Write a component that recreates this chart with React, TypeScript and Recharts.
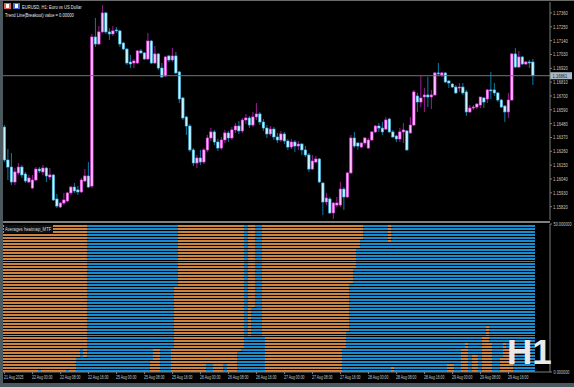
import React from 'react';
import { ComposedChart, Bar, XAxis, YAxis, ReferenceLine } from 'recharts';

// EURUSD H1 bars, 21 Aug 16:00 .. 29 Aug 23:00
const opens = [
  1.16453, 1.16191, 1.16135, 1.16016, 1.16088, 1.16135, 1.1608, 1.16016,
  1.15968, 1.16032, 1.16119, 1.16096, 1.16127, 1.16056, 1.16072, 1.15881,
  1.15817, 1.15849, 1.15865, 1.15929, 1.15976, 1.15953, 1.15937, 1.16024,
  1.16064, 1.15984, 1.17169, 1.17113, 1.17209, 1.1736, 1.17209, 1.17193,
  1.17225, 1.17217, 1.17121, 1.17073, 1.1697, 1.16962, 1.16962, 1.17058,
  1.17042, 1.16994, 1.17137, 1.16962, 1.17034, 1.16922, 1.16859, 1.17018,
  1.16986, 1.17018, 1.16891, 1.16684, 1.16533, 1.16461, 1.16271, 1.16167,
  1.16207, 1.16175, 1.16271, 1.16366, 1.16414, 1.16334, 1.16286, 1.1635,
  1.16406, 1.16366, 1.1643, 1.16461, 1.16422, 1.16509, 1.16525, 1.16469,
  1.16533, 1.16557, 1.16493, 1.16445, 1.16398, 1.16437, 1.16374, 1.1635,
  1.16398, 1.16342, 1.16294, 1.16334, 1.16302, 1.16318, 1.16271, 1.16231,
  1.16119, 1.16175, 1.16199, 1.16008, 1.15857, 1.15881, 1.1577, 1.15833,
  1.15833, 1.1596, 1.15897, 1.16088, 1.16366, 1.16326, 1.16294, 1.16326,
  1.16286, 1.1635, 1.16414, 1.16461, 1.16445, 1.16437, 1.16517, 1.16414,
  1.16382, 1.16358, 1.16414, 1.16422, 1.16406, 1.16469, 1.167, 1.16652,
  1.16692, 1.16708, 1.16692, 1.16708, 1.16883, 1.16867, 1.16883, 1.16819,
  1.16795, 1.16771, 1.16763, 1.16771, 1.16732, 1.16573, 1.16604, 1.16612,
  1.16628, 1.16684, 1.16676, 1.16748, 1.16748, 1.16724, 1.16668, 1.1662,
  1.16573, 1.16668, 1.17034, 1.1693, 1.1701, 1.16954, 1.1697, 1.1697,
];
const highs = [
  1.16469, 1.16278, 1.16247, 1.16127, 1.16167, 1.16151, 1.16096, 1.16072,
  1.16072, 1.16135, 1.16135, 1.16151, 1.16135, 1.16127, 1.1608, 1.15921,
  1.15857, 1.15929, 1.15937, 1.15984, 1.16008, 1.15984, 1.16048, 1.16119,
  1.16175, 1.17193, 1.1732, 1.17256, 1.17423, 1.17368, 1.1724, 1.17256,
  1.17248, 1.17225, 1.17129, 1.17081, 1.17026, 1.16994, 1.17066, 1.17073,
  1.1705, 1.17201, 1.17145, 1.17097, 1.17042, 1.16962, 1.17018, 1.17026,
  1.17081, 1.1705, 1.16899, 1.16692, 1.16541, 1.16477, 1.16286, 1.16231,
  1.16271, 1.16286, 1.1639, 1.16445, 1.1643, 1.16358, 1.16374, 1.1643,
  1.16422, 1.16453, 1.16485, 1.16501, 1.16525, 1.16557, 1.16541, 1.16573,
  1.16644, 1.16573, 1.16517, 1.16469, 1.16461, 1.16453, 1.16406, 1.16422,
  1.16414, 1.16358, 1.16358, 1.1635, 1.16342, 1.16326, 1.16302, 1.16247,
  1.16231, 1.16223, 1.16207, 1.16016, 1.15929, 1.15897, 1.15857, 1.15897,
  1.16016, 1.15976, 1.16096, 1.1639, 1.16414, 1.16334, 1.16334, 1.16374,
  1.16366, 1.16422, 1.16469, 1.16485, 1.16493, 1.16533, 1.16525, 1.1643,
  1.1639, 1.16445, 1.16485, 1.1643, 1.16533, 1.16748, 1.16724, 1.16859,
  1.16763, 1.16851, 1.16748, 1.16891, 1.16962, 1.16891, 1.16891, 1.16827,
  1.16803, 1.16787, 1.16803, 1.16803, 1.16748, 1.16628, 1.16628, 1.16644,
  1.16692, 1.16692, 1.16755, 1.16891, 1.16803, 1.16732, 1.16676, 1.16628,
  1.16724, 1.17042, 1.17081, 1.17058, 1.17018, 1.16978, 1.16986, 1.16994,
];
const lows = [
  1.16175, 1.16032, 1.15992, 1.15992, 1.16072, 1.16048, 1.16008, 1.16008,
  1.1596, 1.16024, 1.16088, 1.16072, 1.16016, 1.16032, 1.15865, 1.15809,
  1.15809, 1.15833, 1.15857, 1.15913, 1.15929, 1.15913, 1.15929, 1.16016,
  1.15968, 1.15968, 1.17089, 1.17105, 1.17201, 1.17193, 1.17145, 1.17177,
  1.17201, 1.17089, 1.17066, 1.16946, 1.16922, 1.16922, 1.16954, 1.17034,
  1.16986, 1.16986, 1.16954, 1.16954, 1.16907, 1.16843, 1.16851, 1.1697,
  1.1697, 1.16875, 1.16644, 1.16509, 1.1639, 1.16255, 1.16143, 1.16127,
  1.16151, 1.16159, 1.16255, 1.16342, 1.1631, 1.16263, 1.16271, 1.16326,
  1.16334, 1.1635, 1.16406, 1.16398, 1.16406, 1.16477, 1.16445, 1.16453,
  1.16509, 1.16469, 1.16422, 1.16366, 1.16382, 1.1635, 1.16326, 1.16334,
  1.16318, 1.16271, 1.16278, 1.16255, 1.16271, 1.16231, 1.16215, 1.16096,
  1.16112, 1.16167, 1.16008, 1.15754, 1.15833, 1.15762, 1.15722, 1.15817,
  1.15817, 1.15794, 1.15889, 1.1608, 1.16286, 1.16271, 1.16286, 1.1631,
  1.16278, 1.16342, 1.16406, 1.16414, 1.1639, 1.1643, 1.16406, 1.16366,
  1.16334, 1.16334, 1.16326, 1.16263, 1.16398, 1.16461, 1.16573, 1.16612,
  1.16573, 1.16612, 1.16596, 1.167, 1.16859, 1.16851, 1.16803, 1.16763,
  1.16763, 1.16716, 1.16732, 1.16708, 1.16541, 1.16565, 1.16589, 1.16596,
  1.16604, 1.16604, 1.16644, 1.16676, 1.167, 1.16652, 1.16604, 1.16493,
  1.16525, 1.1666, 1.16922, 1.16922, 1.16946, 1.16946, 1.16922, 1.16787,
];
const closes = [
  1.16191, 1.16135, 1.16016, 1.16096, 1.16135, 1.16072, 1.16024, 1.16048,
  1.16032, 1.16119, 1.16104, 1.16127, 1.16064, 1.16072, 1.15873, 1.15825,
  1.15849, 1.15873, 1.15929, 1.15976, 1.15945, 1.15937, 1.16032, 1.16064,
  1.15976, 1.17169, 1.17113, 1.17209, 1.1736, 1.17209, 1.17193, 1.17217,
  1.17217, 1.17113, 1.17073, 1.16962, 1.16954, 1.16978, 1.17058, 1.17042,
  1.16994, 1.17137, 1.16962, 1.17034, 1.16922, 1.16851, 1.1701, 1.16986,
  1.17018, 1.16883, 1.16676, 1.16525, 1.16461, 1.16271, 1.16167, 1.16207,
  1.16175, 1.16271, 1.16366, 1.16414, 1.16334, 1.16286, 1.1635, 1.16406,
  1.16366, 1.1643, 1.16461, 1.16422, 1.16509, 1.16525, 1.16469, 1.16533,
  1.16557, 1.16493, 1.16445, 1.16398, 1.16437, 1.16374, 1.1635, 1.16398,
  1.16342, 1.16294, 1.16334, 1.16302, 1.16318, 1.16271, 1.16231, 1.16119,
  1.16183, 1.16199, 1.16016, 1.15857, 1.15889, 1.1577, 1.15849, 1.15849,
  1.1596, 1.15897, 1.16088, 1.16366, 1.16302, 1.16302, 1.16326, 1.16366,
  1.1635, 1.16414, 1.16461, 1.16445, 1.16414, 1.16509, 1.16414, 1.16374,
  1.16358, 1.16414, 1.1643, 1.16271, 1.16469, 1.16732, 1.16652, 1.16684,
  1.16708, 1.16692, 1.16708, 1.16883, 1.16875, 1.16883, 1.16811, 1.16803,
  1.16771, 1.16724, 1.16771, 1.16724, 1.16573, 1.16604, 1.16612, 1.16636,
  1.16692, 1.16652, 1.16748, 1.1674, 1.16724, 1.16668, 1.16612, 1.16573,
  1.16668, 1.17034, 1.1693, 1.1701, 1.16954, 1.1697, 1.16962, 1.16861,
];

// heatmap: rows (of 50) shown blue, counted from the top and from the bottom
const heatTop = [
  0, 0, 0, 0, 0, 0, 0, 0, 0, 0, 0, 0, 0, 0, 0, 0,
  0, 0, 0, 0, 0, 0, 0, 0, 50, 50, 50, 50, 50, 50, 50, 50,
  50, 50, 50, 50, 50, 50, 50, 50, 50, 50, 46, 42, 42, 50, 50, 50,
  42, 21, 0, 0, 0, 0, 0, 0, 0, 0, 0, 0, 0, 0, 0, 0,
  0, 0, 0, 0, 0, 50, 0, 0, 50, 50, 0, 0, 0, 0, 0, 0,
  0, 0, 0, 0, 0, 0, 0, 0, 0, 0, 0, 0, 0, 0, 0, 0,
  0, 0, 0, 0, 0, 0, 0, 50, 50, 50, 50, 50, 50, 50, 0, 48,
  50, 50, 50, 50, 50, 50, 50, 50, 50, 50, 50, 50, 50, 50, 50, 47,
  47, 50, 50, 42, 40, 50, 44, 44, 50, 38, 34, 40, 50, 50, 45, 40,
  42, 46, 50, 50, 50, 50, 50, 50,
];
const heatBottom = [
  0, 0, 0, 0, 0, 0, 0, 0, 0, 0, 1, 0, 0, 0, 0, 0,
  0, 0, 1, 0, 0, 5, 8, 5, 0, 0, 0, 0, 0, 0, 0, 0,
  0, 0, 0, 0, 0, 0, 0, 0, 0, 0, 0, 0, 0, 0, 0, 0,
  0, 0, 0, 0, 0, 0, 0, 0, 0, 0, 3, 3, 0, 0, 0, 3,
  0, 0, 0, 7, 8, 0, 12, 22, 0, 0, 12, 0, 0, 0, 0, 0,
  0, 0, 0, 0, 0, 0, 0, 0, 0, 0, 0, 0, 0, 0, 0, 0,
  0, 8, 14, 30, 35, 42, 45, 0, 0, 0, 0, 0, 0, 0, 44, 0,
  0, 0, 0, 0, 0, 0, 0, 0, 0, 0, 0, 0, 0, 0, 0, 0,
  0, 0, 0, 0, 0, 0, 0, 0, 0, 0, 0, 0, 0, 0, 0, 0,
  0, 0, 0, 0, 0, 0, 0, 0,
];

const priceTicks = [
  1.1736, 1.1725, 1.1714, 1.1703, 1.1692, 1.1681, 1.167, 1.1659,
  1.1648, 1.1637, 1.1626, 1.1615, 1.1604, 1.1593, 1.1582,
];
const lastPrice = 1.16861;
const timeTicks = [0, 8, 16, 24, 32, 40, 48, 56, 64, 72, 80, 88, 96, 104, 112, 120, 128, 136, 144];
const timeLabels = [
  '21 Aug 2025', '22 Aug 00:00', '22 Aug 08:00', '22 Aug 16:00', '25 Aug 00:00',
  '25 Aug 08:00', '25 Aug 16:00', '26 Aug 00:00', '26 Aug 08:00', '26 Aug 16:00',
  '27 Aug 00:00', '27 Aug 08:00', '27 Aug 16:00', '28 Aug 00:00', '28 Aug 08:00',
  '28 Aug 16:00', '29 Aug 00:00', '29 Aug 08:00', '29 Aug 16:00',
];
const heatTicks = [0, 50];

const ROWS = 50;
const X_DOMAIN: [number, number] = [-0.45, 155.85];
const FONT = '"Liberation Sans", Arial, sans-serif';
const TXT = '#c8c8c8';
const LINE = '#7d7d7d';
const HEAT_UP = '#1b8ccb';
const HEAT_DN = '#cc8443';

const data = opens.map((o, i) => ({
  i,
  range: [lows[i], highs[i]],
  open: o,
  high: highs[i],
  low: lows[i],
  close: closes[i],
  lo: heatBottom[i],
  mid: ROWS - heatTop[i] - heatBottom[i],
  hi: heatTop[i],
}));

function Candle(props: any) {
  const { x, y, width, height, payload } = props;
  if (x == null || !payload) return null;
  const { open, close, high, low } = payload;
  const top = Math.min(y, y + height);
  const h = Math.abs(height);
  const k = h / (high - low || 1);
  const cx = x + width / 2;
  const yo = top + (high - open) * k;
  const yc = top + (high - close) * k;
  const up = close >= open;
  const bTop = Math.min(yo, yc);
  const bH = Math.max(Math.abs(yc - yo), 1);
  return (
    <g>
      <line x1={cx} x2={cx} y1={top} y2={top + h} stroke={up ? '#9c1f9a' : '#0b7ea3'} strokeWidth={1} />
      <rect
        x={cx - 1.2}
        y={bTop}
        width={2.4}
        height={bH}
        fill={up ? '#ffbcff' : '#c8f4ff'}
        stroke={up ? '#f23cf0' : '#3ab6ea'}
        strokeWidth={0.6}
      />
    </g>
  );
}

function HeatSeg(props: any) {
  const { x, y, width, height, payload, field, color } = props;
  const n = payload ? payload[field] : 0;
  if (!n || n <= 0 || x == null) return null;
  const top = Math.min(y, y + height);
  const rowH = Math.abs(height) / n;
  const cells = [];
  for (let r = 0; r < n; r++) {
    cells.push(
      <rect
        key={r}
        x={x - 0.3}
        y={top + r * rowH + 1}
        width={width + 0.6}
        height={rowH - 1}
        fill={color}
        shapeRendering="crispEdges"
      />
    );
  }
  return <g>{cells}</g>;
}

// narrow small text, like the terminal's compact font
const Narrow = ({ x, y, sx = 0.64, size = 5.8, fill = TXT, children }: any) => (
  <text transform={`translate(${x},${y}) scale(${sx},1)`} fontSize={size} fill={fill}>
    {children}
  </text>
);

const PriceTick = ({ x, y, payload }: any) => (
  <Narrow x={x} y={y + 2} sx={0.7}>{Number(payload.value).toFixed(5)}</Narrow>
);

const HeatTick = ({ x, y, payload }: any) => (
  <Narrow x={x + 0.5} y={y + 2} sx={0.66}>{Number(payload.value).toFixed(6)}</Narrow>
);

const TimeTick = ({ x, y, payload }: any) => {
  const label = timeLabels[timeTicks.indexOf(payload.value)] ?? '';
  return <Narrow x={x - 0.5} y={y + 3.5} sx={0.6}>{label}</Narrow>;
};

const LastPriceLabel = ({ viewBox }: any) => {
  if (!viewBox) return null;
  const { x, y, width } = viewBox;
  return (
    <g>
      <rect x={x + width} y={y - 3.5} width={22} height={7} fill="#a9bac6" />
      <Narrow x={x + width + 2.5} y={y + 2} sx={0.7} fill="#1a1a1a">{lastPrice.toFixed(5)}</Narrow>
    </g>
  );
};

export default function App() {
  return (
    <div style={{ position: 'fixed', left: 0, top: 0, width: 574, height: 387, background: '#4b585e', fontFamily: FONT, overflow: 'hidden' }}>
      <div style={{ position: 'absolute', left: 3, top: 0, width: 571, height: 383, background: '#000' }} />
      <div style={{ position: 'absolute', left: 0, top: 0, width: 574, height: 1, background: '#6a6a6a' }} />

      {/* price pane */}
      <div style={{ position: 'absolute', left: 0, top: 0 }}>
        <ComposedChart width={574} height={221} data={data} margin={{ top: 2, right: 0, bottom: 1, left: 3 }}>
          <XAxis dataKey="i" type="number" domain={X_DOMAIN} hide allowDataOverflow />
          <YAxis
            orientation="right"
            width={24}
            domain={[1.15714, 1.17447]}
            ticks={priceTicks}
            interval={0}
            allowDataOverflow
            tick={<PriceTick />}
            tickSize={2}
            tickMargin={1}
            tickLine={{ stroke: LINE }}
            axisLine={{ stroke: LINE }}
          />
          <ReferenceLine y={lastPrice} stroke="#6e767b" strokeWidth={1} label={<LastPriceLabel />} />
          <Bar dataKey="range" barSize={3.5} shape={(p: any) => <Candle {...p} />} isAnimationActive={false} />
        </ComposedChart>
      </div>

      <div style={{ position: 'absolute', left: 3, top: 221, width: 547, height: 2, background: '#808080' }} />

      {/* heatmap pane */}
      <div style={{ position: 'absolute', left: 0, top: 222 }}>
        <ComposedChart width={574} height={161} data={data} margin={{ top: 2, right: 0, bottom: 0, left: 3 }}>
          <XAxis
            dataKey="i"
            type="number"
            domain={X_DOMAIN}
            ticks={timeTicks}
            interval={0}
            allowDataOverflow
            height={11}
            tickSize={2}
            tickMargin={1}
            tick={<TimeTick />}
            tickLine={{ stroke: LINE }}
            axisLine={{ stroke: LINE }}
          />
          <YAxis
            orientation="right"
            width={24}
            domain={[0, ROWS]}
            ticks={heatTicks}
            interval={0}
            allowDataOverflow
            tick={<HeatTick />}
            tickSize={2}
            tickMargin={1}
            tickLine={{ stroke: LINE }}
            axisLine={{ stroke: LINE }}
          />
          <Bar dataKey="lo" stackId="h" barSize={3.5} isAnimationActive={false}
            shape={(p: any) => <HeatSeg {...p} field="lo" color={HEAT_UP} />} />
          <Bar dataKey="mid" stackId="h" barSize={3.5} isAnimationActive={false}
            shape={(p: any) => <HeatSeg {...p} field="mid" color={HEAT_DN} />} />
          <Bar dataKey="hi" stackId="h" barSize={3.5} isAnimationActive={false}
            shape={(p: any) => <HeatSeg {...p} field="hi" color={HEAT_UP} />} />
        </ComposedChart>
      </div>

      {/* overlay texts */}
      <svg width={574} height={387} style={{ position: 'absolute', left: 0, top: 0, pointerEvents: 'none' }}>
        <rect x={4} y={3} width={7} height={6} fill="#e25b5b" />
        <rect x={6} y={4} width={3} height={4} fill="#fff" />
        <rect x={13} y={3} width={7} height={6} fill="#3b6fd0" />
        <rect x={15} y={4} width={3} height={4} fill="#fff" />
        <Narrow x={22} y={9} size={6.2} sx={0.66} fill="#e8e8e8">EURUSD, H1:  Euro vs US Dollar</Narrow>
        <Narrow x={5} y={17} size={6.2} sx={0.66} fill="#e8e8e8">Trend Line(Breakout) value = 0.00000</Narrow>
        <rect x={4} y={225} width={49} height={8} fill="#111" />
        <Narrow x={5} y={231} size={6.2} sx={0.68} fill="#d8d8d8">Averages heatmap_MTF</Narrow>
        <text x={507} y={364} fontSize={35} fontWeight="bold" fill="#e9e9e9">H1</text>
      </svg>
    </div>
  );
}
